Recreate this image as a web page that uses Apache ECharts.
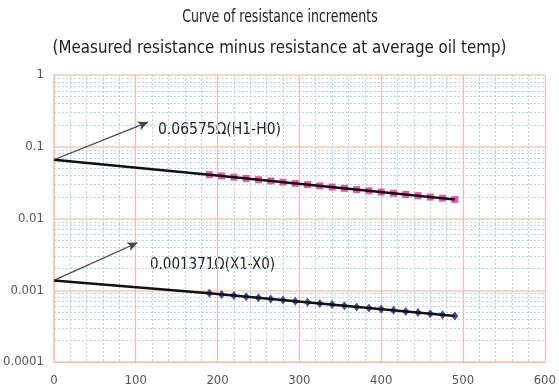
<!DOCTYPE html>
<html>
<head>
<meta charset="utf-8">
<script src="https://cdn.jsdelivr.net/npm/echarts@6/dist/echarts.min.js"></script>
<style>html,body{margin:0;padding:0;background:#fff}#c{width:559px;height:391px}</style>
</head>
<body>
<div id="c"></div>
<script>
// Data
const xTicks = [0, 100, 200, 300, 400, 500, 600];
const yTicks = [0.0001, 0.001, 0.01, 0.1, 1];
const yMinorSteps = [2, 3, 4, 5, 6, 7, 8, 9];
const measX = [190, 205, 220, 235, 250, 265, 280, 295, 310, 325, 340, 355, 370, 385, 400, 415, 430, 445, 460, 475, 490];
const hValues = [0.0408, 0.0392, 0.0377, 0.0362, 0.0348, 0.0334, 0.0321, 0.0309, 0.0297, 0.0285, 0.0274, 0.0263, 0.0253, 0.0243, 0.0234, 0.0225, 0.0216, 0.0208, 0.0199, 0.0192, 0.0184];
const xValues = [0.000908, 0.000876, 0.000844, 0.000814, 0.000785, 0.000757, 0.000730, 0.000704, 0.000678, 0.000654, 0.000631, 0.000608, 0.000586, 0.000565, 0.000545, 0.000526, 0.000507, 0.000489, 0.000471, 0.000454, 0.000438];
const trendX = [0, 190, 490];
const hTrend = [0.06575, 0.0408, 0.0184];
const xTrend = [0.001371, 0.000908, 0.000438];
const hArrowTip = [115, 0.22];
const xArrowTip = [102, 0.0046];
const hLabel = '0.06575Ω(H1-H0)';
const xLabel = '0.001371Ω(X1-X0)';
const titleText = 'Curve of resistance increments';
const subText = '(Measured resistance minus resistance at average oil temp)';

const FONT = '"Liberation Sans Narrow", "DejaVu Sans Condensed", "Liberation Sans", sans-serif';
const pair = (xs, ys) => xs.map((x, i) => [x, ys[i]]);
// log graph-paper minor grid values (2..9 x each decade)
const yMinorValues = [];
yTicks.slice(0, -1).forEach(d => yMinorSteps.forEach(s => yMinorValues.push(+(d * s).toPrecision(3))));

const gridBlue = '#b3cfeb';
const chart = echarts.init(document.getElementById('c'), null, {renderer: 'canvas'});
chart.setOption({
  animation: false,
  backgroundColor: '#fff',
  title: [
    {text: subText, left: 'center', top: 35, textStyle: {fontFamily: FONT, fontSize: 16.8, fontWeight: 'normal', color: '#222'}}
  ],
  grid: {left: 52, right: 9, top: 75, bottom: 29},
  xAxis: {
    type: 'value', min: 0, max: 600, interval: 100, z: 2,
    axisLine: {show: true, lineStyle: {color: '#efbcbc', width: 1}},
    axisTick: {show: false},
    axisLabel: {color: '#555', fontFamily: FONT, fontSize: 13, margin: 12,
      formatter: v => xTicks.includes(v) ? String(v) : ''},
    splitLine: {show: true, lineStyle: {color: '#efbcbc', width: 1.2}},
    minorTick: {show: false, splitNumber: 5},
    minorSplitLine: {show: true, lineStyle: {color: gridBlue, width: 1, type: [2, 2]}}
  },
  yAxis: [{
    type: 'log', logBase: 10, min: 0.0001, max: 1, z: 2,
    axisLine: {show: true, lineStyle: {color: '#f2c6a6', width: 1.5}},
    axisTick: {show: false},
    axisLabel: {color: '#555', fontFamily: FONT, fontSize: 13, margin: 10,
      formatter: v => { const t = yTicks.find(k => Math.abs(k - v) / k < 1e-6); return t === undefined ? '' : String(t); }},
    splitLine: {show: true, lineStyle: {color: '#f4cdb0', width: 1.6}}
  }, {
    type: 'log', logBase: 10, min: 0.0001, max: 1, position: 'left', z: 1,
    axisLine: {show: false},
    axisLabel: {show: false},
    axisTick: {show: false, customValues: yMinorValues},
    splitLine: {show: true, lineStyle: {color: gridBlue, width: 1, type: [2, 2]}}
  }],
  graphic: [
    {type: 'text', x: 280, y: 18, scaleX: 0.83, style: {text: titleText, align: 'center', verticalAlign: 'middle',
      fontFamily: FONT, fontSize: 16.8, fill: '#222'}},
    {type: 'text', left: 158, top: 122, style: {text: hLabel, fontFamily: FONT, fontSize: 15.5, fill: '#222'}},
    {type: 'text', left: 150, top: 258, style: {text: xLabel, fontFamily: FONT, fontSize: 15, fill: '#222'}}
  ],
  series: [
    {type: 'scatter', data: pair(measX, hValues), symbol: 'rect', symbolSize: 7,
      itemStyle: {color: '#e5318a'}, z: 3},
    {type: 'scatter', data: pair(measX, xValues), symbol: 'diamond', symbolSize: [7, 9],
      itemStyle: {color: '#1b1f82'}, z: 3},
    {type: 'line', data: pair(trendX, hTrend), showSymbol: false, symbol: 'none',
      lineStyle: {color: '#111', width: 2.5}, z: 4,
      markLine: {silent: true, symbol: ['none', 'arrow'], symbolSize: [7, 10], label: {show: false},
        lineStyle: {color: '#444', width: 1.2, type: 'solid'},
        data: [[{coord: [trendX[0], hTrend[0]]}, {coord: hArrowTip}]]}},
    {type: 'line', data: pair(trendX, xTrend), showSymbol: false, symbol: 'none',
      lineStyle: {color: '#111', width: 2.5}, z: 4,
      markLine: {silent: true, symbol: ['none', 'arrow'], symbolSize: [7, 10], label: {show: false},
        lineStyle: {color: '#444', width: 1.2, type: 'solid'},
        data: [[{coord: [trendX[0], xTrend[0]]}, {coord: xArrowTip}]]}}
  ]
});
</script>
</body>
</html>
